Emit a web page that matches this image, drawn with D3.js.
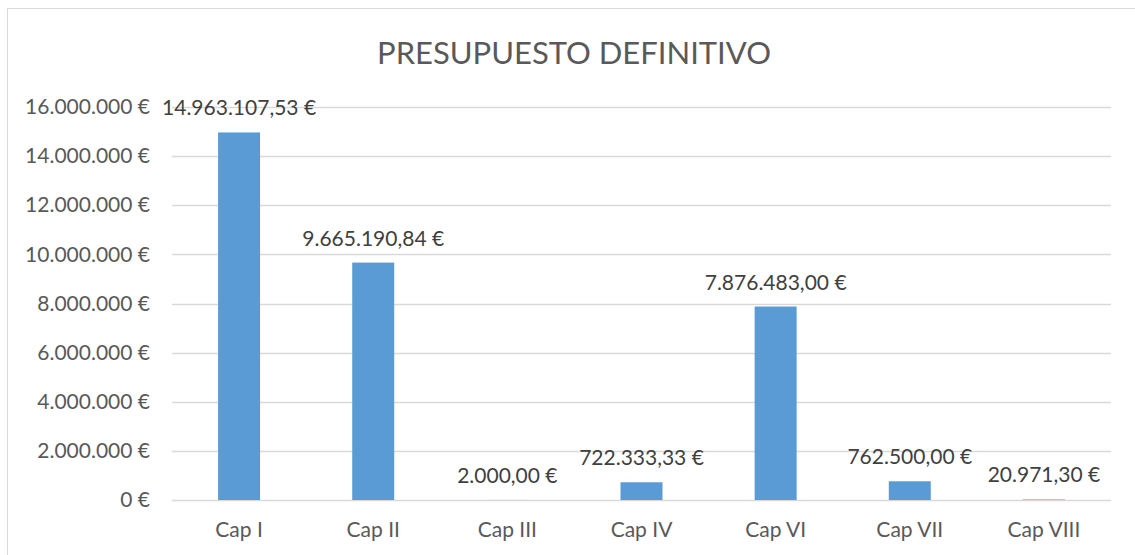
<!DOCTYPE html>
<html>
<head>
<meta charset="utf-8">
<script src="https://cdn.jsdelivr.net/npm/d3@7"></script>
<style>
  body { margin: 0; background: #fff; }
  svg { font-family: Lato, "Noto Sans", sans-serif; }
</style>
</head>
<body>
<svg id="chart" width="1135" height="555"></svg>
<script>
// chart data
const categories = ["Cap I", "Cap II", "Cap III", "Cap IV", "Cap VI", "Cap VII", "Cap VIII"];
const values = [14963107.53, 9665190.84, 2000.00, 722333.33, 7876483.00, 762500.00, 20971.30];
const yTicks = [0, 2000000, 4000000, 6000000, 8000000, 10000000, 12000000, 14000000, 16000000];
const title = "PRESUPUESTO DEFINITIVO";

const es = d3.formatLocale({
    decimal: ",",
    thousands: ".",
    grouping: [3],
    currency: ["", " €"]
});
const fmtAxis = es.format("$,.0f");
const fmtLabel = es.format("$,.2f");

const svg = d3.select("#chart");
const plotLeft = 172, plotRight = 1111, plotTop = 107, plotBottom = 500;

// outer frame
svg.append("rect")
    .attr("x", 7.5).attr("y", 8.5)
    .attr("width", 1140).attr("height", 560)
    .attr("fill", "none")
    .attr("stroke", "#d9d9d9")
    .attr("stroke-width", 1);

const x = d3.scaleBand()
    .domain(categories)
    .range([plotLeft, plotRight])
    .paddingInner(0.687)
    .paddingOuter(0.3435);

const y = d3.scaleLinear()
    .domain([0, 16000000])
    .range([plotBottom, plotTop]);

// gridlines
svg.append("g")
    .selectAll("line")
    .data(yTicks)
    .join("line")
    .attr("x1", plotLeft)
    .attr("x2", plotRight)
    .attr("y1", d => Math.round(y(d)) + 0.5)
    .attr("y2", d => Math.round(y(d)) + 0.5)
    .attr("stroke", "#d9d9d9")
    .attr("stroke-width", 1.5);

// y axis
const yAxis = svg.append("g")
    .attr("transform", `translate(${plotLeft - 22},0)`)
    .call(d3.axisLeft(y).tickValues(yTicks).tickFormat(fmtAxis).tickSize(0).tickPadding(0));
yAxis.select(".domain").remove();
yAxis.selectAll("text")
    .attr("fill", "#595959")
    .attr("font-size", "21px")
    .attr("font-family", "Lato, sans-serif");

// x axis
const xAxis = svg.append("g")
    .attr("transform", `translate(0,${plotBottom})`)
    .call(d3.axisBottom(x).tickSize(0).tickPadding(22));
xAxis.select(".domain").remove();
xAxis.selectAll("text")
    .attr("fill", "#595959")
    .attr("font-size", "21px")
    .attr("font-family", "Lato, sans-serif");

// bars
svg.append("g")
    .selectAll("rect")
    .data(values)
    .join("rect")
    .attr("x", (d, i) => x(categories[i]))
    .attr("y", d => y(d))
    .attr("width", x.bandwidth())
    .attr("height", d => plotBottom - y(d))
    .attr("fill", "#5b9bd5");

// data labels
svg.append("g")
    .selectAll("text")
    .data(values)
    .join("text")
    .attr("x", (d, i) => x(categories[i]) + x.bandwidth() / 2)
    .attr("y", d => y(d) - 17)
    .attr("text-anchor", "middle")
    .attr("fill", "#404040")
    .attr("font-size", "21px")
    .text(d => fmtLabel(d));

// title
svg.append("text")
    .attr("x", 574)
    .attr("y", 64)
    .attr("text-anchor", "middle")
    .attr("fill", "#595959")
    .attr("font-size", "31px")
    .text(title);
</script>
</body>
</html>
